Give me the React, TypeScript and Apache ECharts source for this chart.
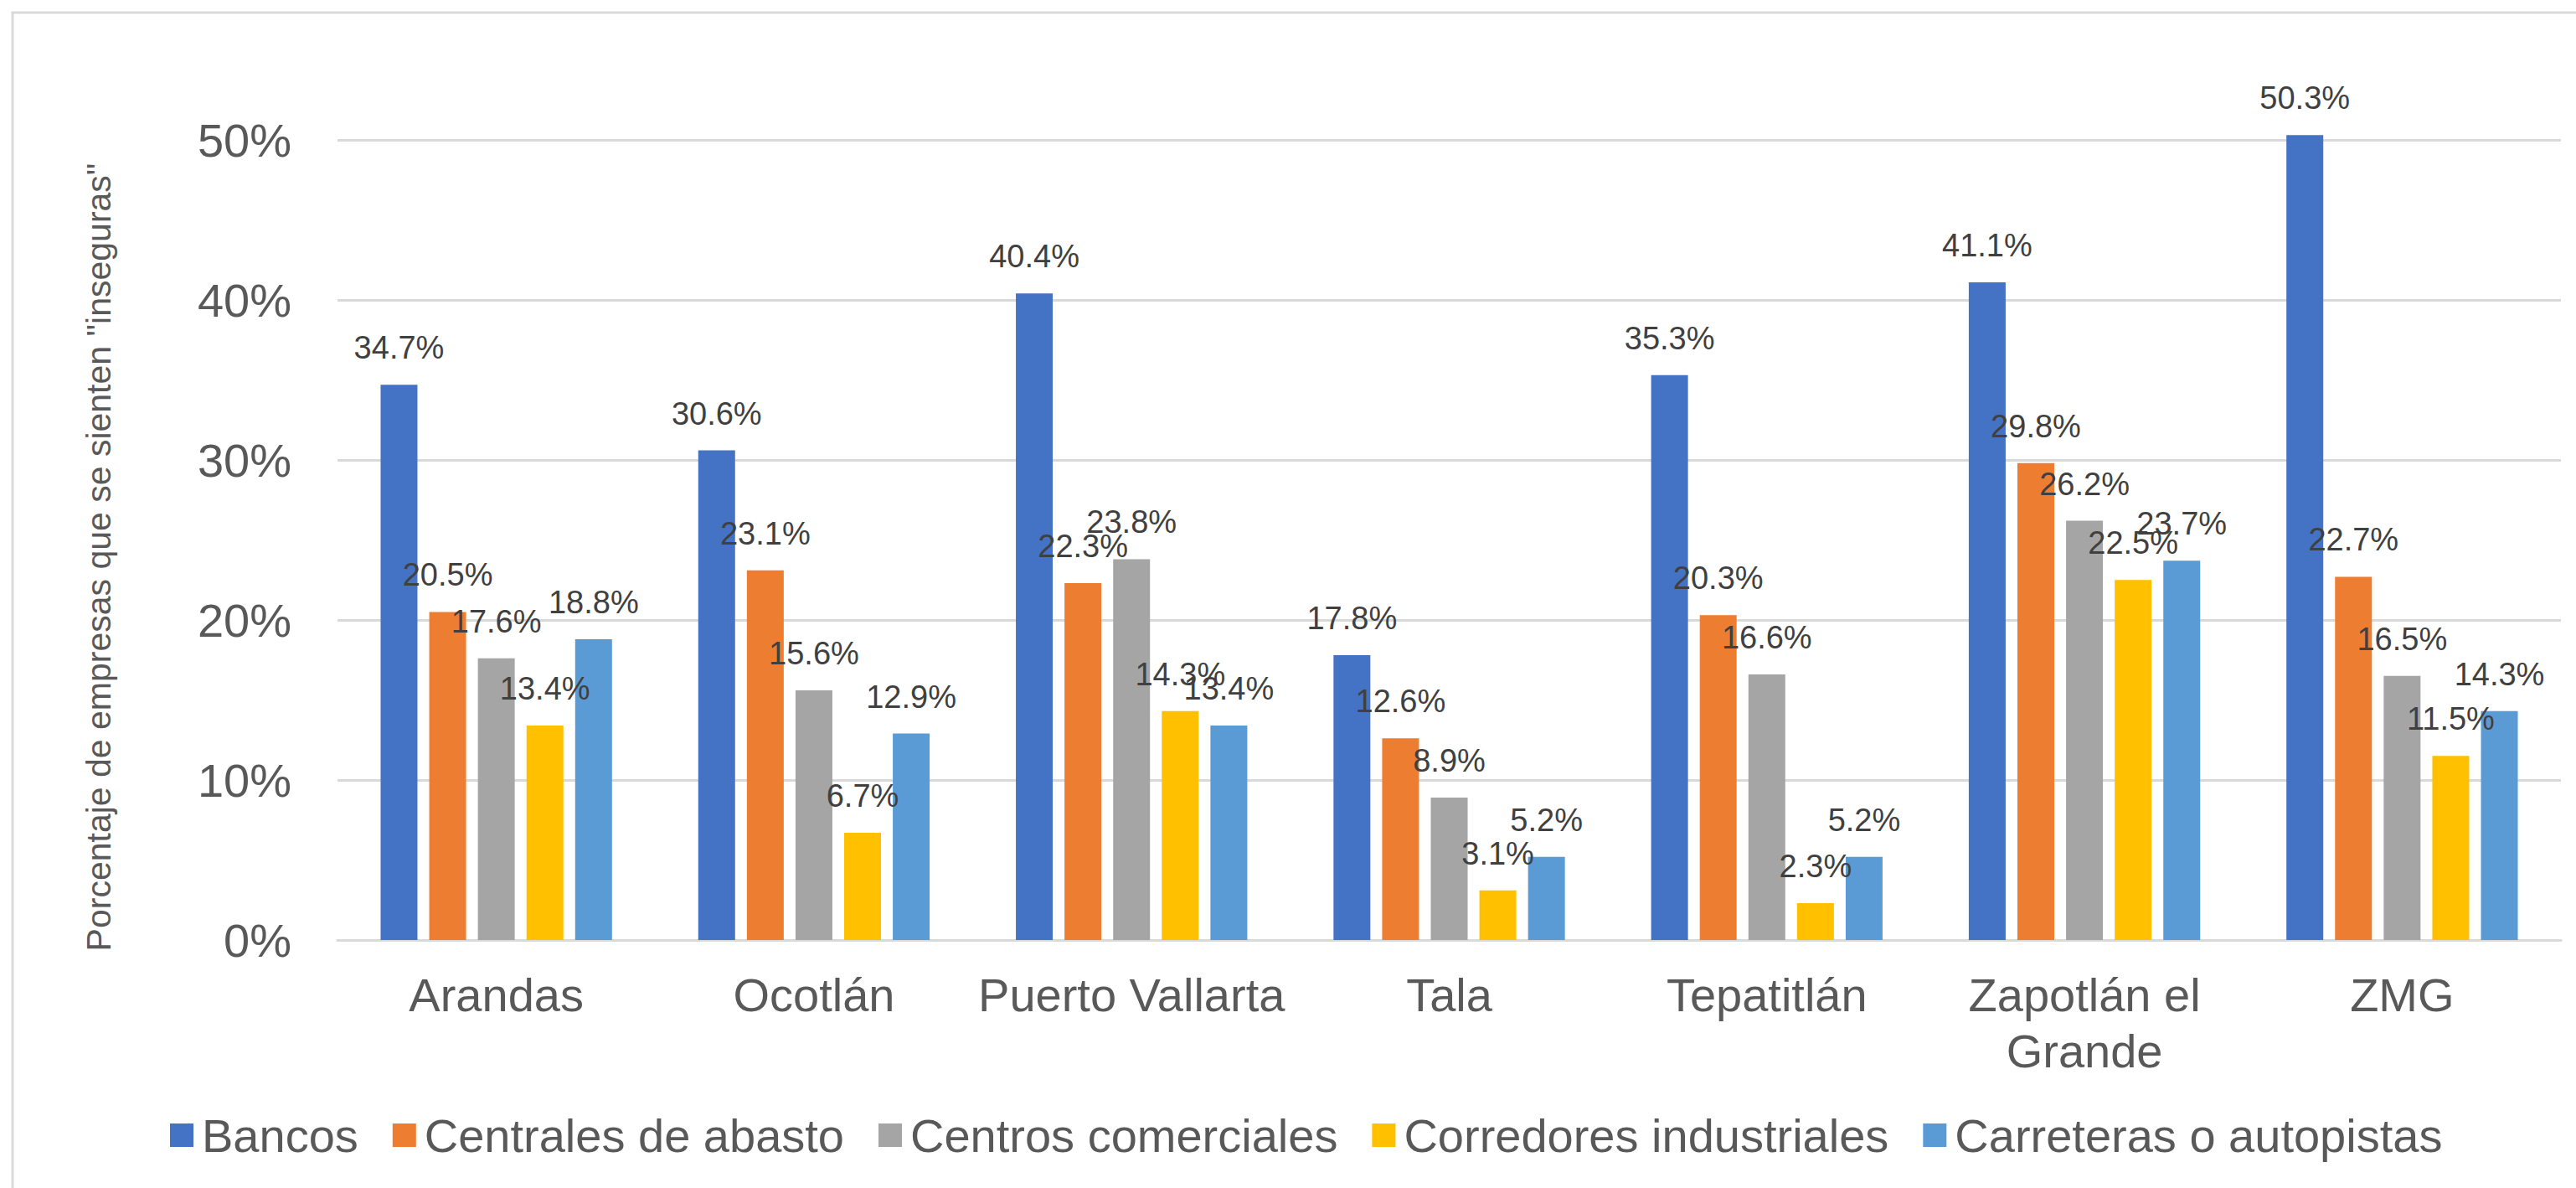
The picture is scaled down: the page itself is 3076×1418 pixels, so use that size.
import React, { useEffect, useRef } from "react";
import * as echarts from "echarts";

const categories = ["Arandas", "Ocotlán", "Puerto Vallarta", "Tala", "Tepatitlán", "Zapotlán el Grande", "ZMG"];
const seriesNames = ["Bancos", "Centrales de abasto", "Centros comerciales", "Corredores industriales", "Carreteras o autopistas"];
const bancos = [34.7, 30.6, 40.4, 17.8, 35.3, 41.1, 50.3];
const centralesAbasto = [20.5, 23.1, 22.3, 12.6, 20.3, 29.8, 22.7];
const centrosComerciales = [17.6, 15.6, 23.8, 8.9, 16.6, 26.2, 16.5];
const corredoresIndustriales = [13.4, 6.7, 14.3, 3.1, 2.3, 22.5, 11.5];
const carreteras = [18.8, 12.9, 13.4, 5.2, 5.2, 23.7, 14.3];
const colors = ["#4472C4", "#ED7D31", "#A5A5A5", "#FFC000", "#5B9BD5"];
const yAxisTitle = 'Porcentaje de empresas que se sienten "inseguras"';

const FONT = "'Liberation Sans', Arial, Helvetica, sans-serif";

function wrapLabel(v: string): string {
  const words = v.split(" ");
  const lines: string[] = [];
  let cur = "";
  for (const w of words) {
    const next = cur ? cur + " " + w : w;
    if (next.length > 15 && cur) {
      lines.push(cur);
      cur = w;
    } else {
      cur = next;
    }
  }
  if (cur) lines.push(cur);
  return lines.join("\n");
}

export default function App() {
  const ref = useRef<HTMLDivElement>(null);
  useEffect(() => {
    if (!ref.current) return;
    const chart = echarts.init(ref.current, undefined, { renderer: "svg" });
    const data = [bancos, centralesAbasto, centrosComerciales, corredoresIndustriales, carreteras];
    chart.setOption({
      animation: false,
      backgroundColor: "#ffffff",
      color: colors,
      textStyle: { fontFamily: FONT },
      grid: { left: 403, right: 18, top: 167, bottom: 296 },
      legend: {
        data: seriesNames,
        left: 198,
        top: 1322,
        icon: "rect",
        itemWidth: 28,
        itemHeight: 28,
        itemGap: 41,
        textStyle: { fontSize: 56, color: "#595959", fontFamily: FONT, padding: [0, 0, 0, 5] },
      },
      graphic: [
        {
          type: "rect",
          shape: { x: 15, y: 15, width: 3100, height: 1500 },
          style: { fill: "none", stroke: "#d9d9d9", lineWidth: 3 },
          silent: true,
        },
        {
          type: "text",
          x: 118,
          y: 665,
          rotation: Math.PI / 2,
          style: {
            text: yAxisTitle,
            font: `41px ${FONT}`,
            fill: "#595959",
            textAlign: "center",
            textVerticalAlign: "middle",
          },
          silent: true,
        },
      ],
      xAxis: {
        type: "category",
        data: categories,
        axisLine: { show: true, lineStyle: { color: "#d9d9d9", width: 3 } },
        axisTick: { show: false },
        axisLabel: {
          interval: 0,
          fontSize: 56,
          color: "#595959",
          margin: 32,
          lineHeight: 67,
          fontFamily: FONT,
          formatter: (v: string) => wrapLabel(v),
        },
      },
      yAxis: {
        type: "value",
        min: 0,
        max: 50,
        interval: 10,
        axisLine: { show: false },
        axisTick: { show: false },
        splitLine: { show: true, lineStyle: { color: "#d9d9d9", width: 3 } },
        axisLabel: {
          fontSize: 56,
          color: "#595959",
          margin: 55,
          fontFamily: FONT,
          formatter: "{value}%",
        },
      },
      series: seriesNames.map((name, i) => ({
        name,
        type: "bar",
        data: data[i],
        barWidth: 44,
        barGap: "32%",
        clip: false,
        itemStyle: { color: colors[i] },
        label: {
          show: true,
          position: "top",
          distance: 25,
          fontSize: 38,
          color: "#404040",
          fontFamily: FONT,
          formatter: (p: any) => `${Number(p.value).toFixed(1)}%`,
        },
      })),
    });
    return () => chart.dispose();
  }, []);
  return (
    <div
      ref={ref}
      style={{ position: "fixed", left: 0, top: 0, width: 3076, height: 1418, background: "#fff" }}
    />
  );
}
